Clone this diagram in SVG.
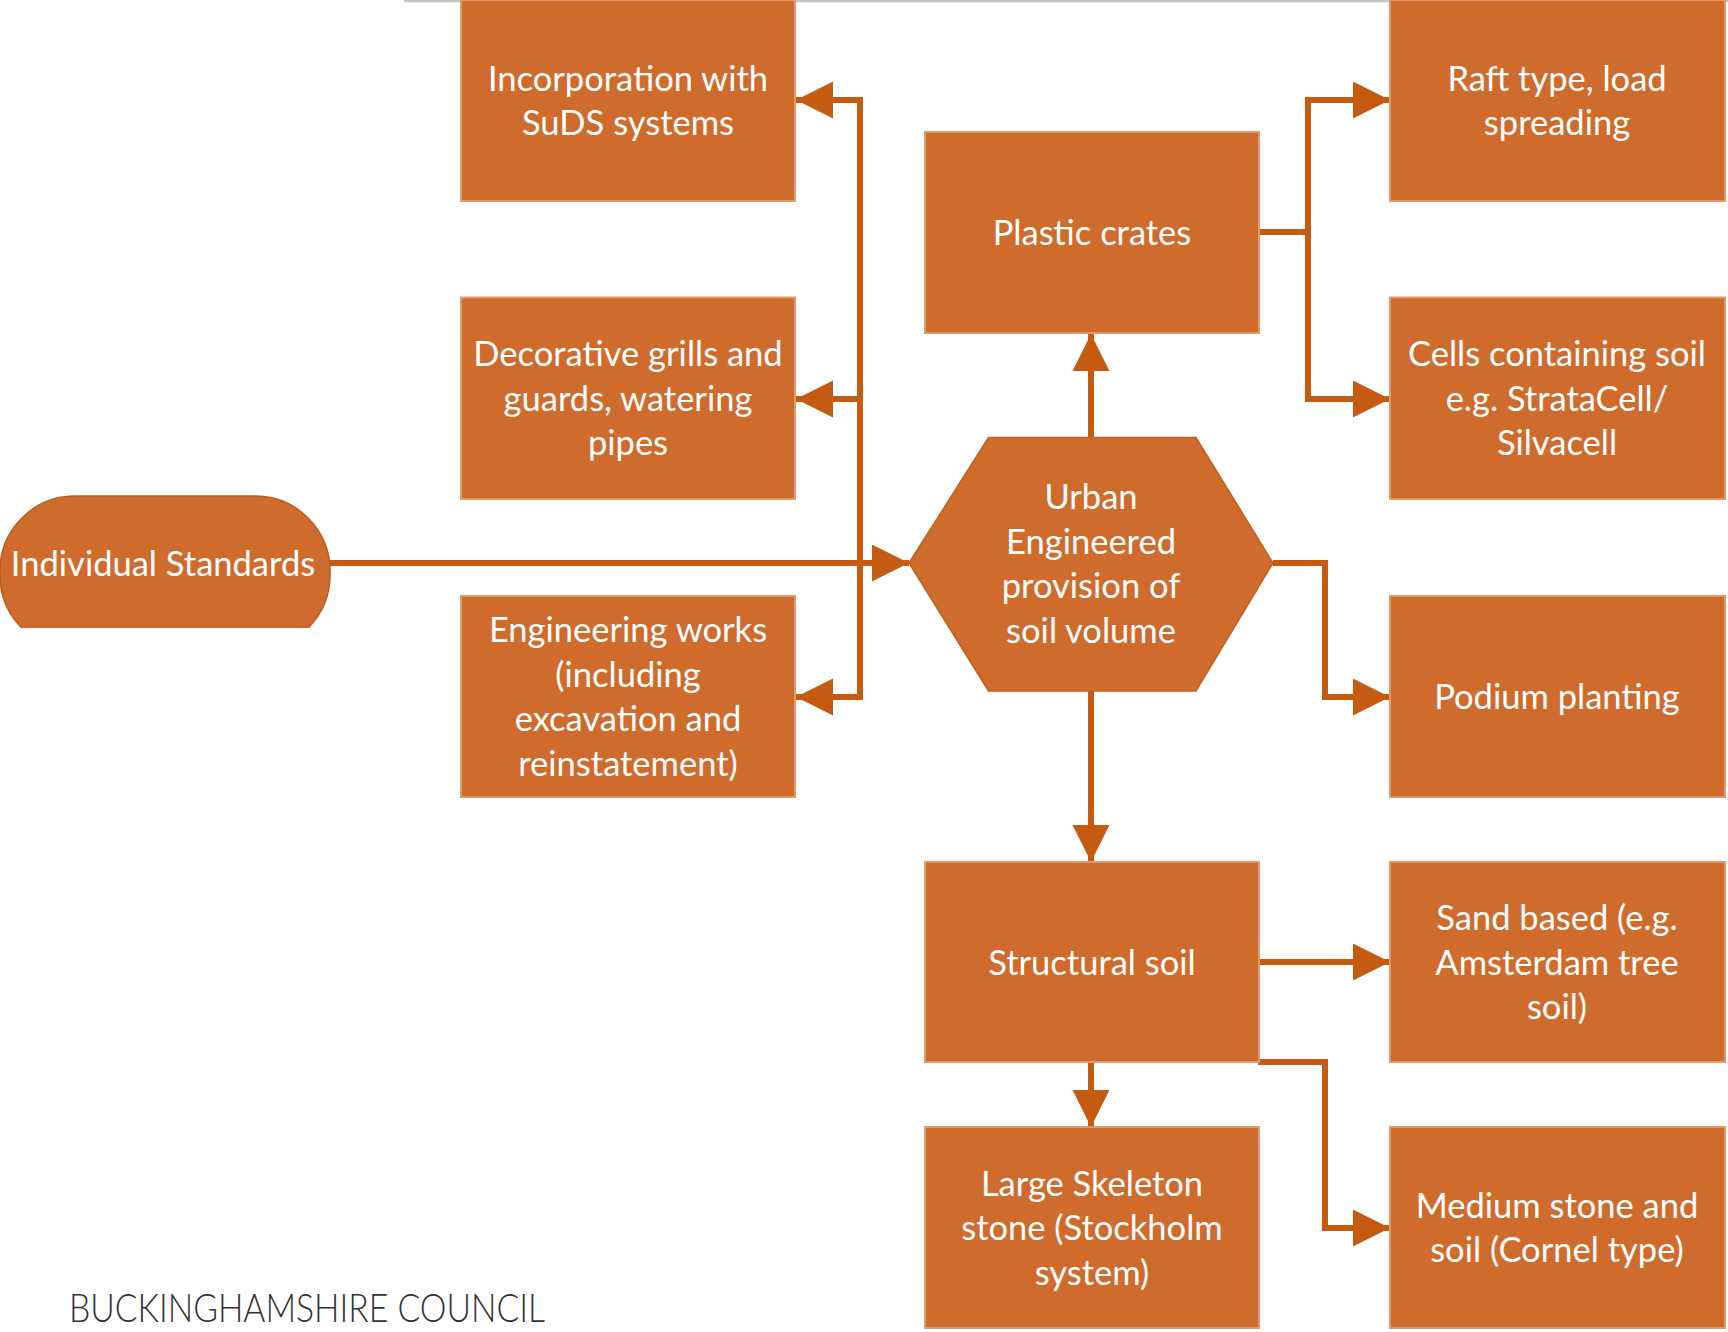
<svg xmlns="http://www.w3.org/2000/svg" width="1728" height="1332" viewBox="0 0 1728 1332">
  <style>
    .box { fill: #CF6C2D; stroke: #DE9A6C; stroke-width: 2; }
    .hex { fill: #CF6C2D; stroke: #C0601F; stroke-width: 1.5; }
    .term { fill: #CF6C2D; stroke: #B95D1E; stroke-width: 1.5; }
    .lbl { font-family: Lato, "Open Sans", "Liberation Sans", sans-serif; font-size: 34.5px; fill: #FFFFFF; text-anchor: middle; }
    .conn { fill: none; stroke: #C55A11; stroke-width: 6; stroke-linejoin: miter; marker-end: url(#arr); }
    .plain { fill: none; stroke: #C55A11; stroke-width: 6; stroke-linejoin: miter; }
    .foot { font-family: Lato, "Liberation Sans", sans-serif; font-weight: 300; font-size: 40px; fill: #333333; }
  </style>
  <defs>
    <marker id="arr" markerUnits="userSpaceOnUse" markerWidth="38" markerHeight="38" refX="37" refY="18.5" orient="auto">
      <path d="M0,0 L37,18.5 L0,37 Z" fill="#C55A11"/>
    </marker>
    <clipPath id="termClip">
      <rect x="-5" y="480" width="345" height="148"/>
    </clipPath>
  </defs>
  <rect width="1728" height="1332" fill="#FFFFFF"/>
  <line x1="404" y1="1" x2="1728" y2="1" stroke="#C4C4C4" stroke-width="2.5"/>

  <g id="connectors">
    <path class="conn" d="M330,563 H909"/>
    <path class="plain" d="M860,563 V97"/>
    <path class="conn" d="M860,100 H796"/>
    <path class="conn" d="M860,399 H796"/>
    <path class="conn" d="M860,563 V697 H796"/>
    <path class="conn" d="M1091,437 V334"/>
    <path class="conn" d="M1258,232 H1308 V100 H1390"/>
    <path class="conn" d="M1308,232 V399 H1390"/>
    <path class="conn" d="M1273,563 H1325 V697 H1390"/>
    <path class="conn" d="M1091,691 V862"/>
    <path class="conn" d="M1258,962 H1390"/>
    <path class="conn" d="M1091,1062 V1127"/>
    <path class="conn" d="M1258,1062 H1325 V1228 H1390"/>
  </g>

  <g id="individual-standards">
    <rect class="term" x="0" y="496" width="330" height="154" rx="75" ry="75" clip-path="url(#termClip)"/>
    <text class="lbl" x="163" y="575.5">Individual Standards</text>
  </g>

  <g id="suds">
    <rect class="box" x="461" y="0" width="334" height="201"/>
    <text class="lbl" x="628" y="90.8">Incorporation with</text>
    <text class="lbl" x="628" y="135.3">SuDS systems</text>
  </g>

  <g id="grills">
    <rect class="box" x="461" y="297.5" width="334" height="201.5"/>
    <text class="lbl" x="628" y="366.3">Decorative grills and</text>
    <text class="lbl" x="628" y="410.8">guards, watering</text>
    <text class="lbl" x="628" y="455.3">pipes</text>
  </g>

  <g id="engineering-works">
    <rect class="box" x="461" y="596" width="334" height="201"/>
    <text class="lbl" x="628" y="642.3">Engineering works</text>
    <text class="lbl" x="628" y="686.8">(including</text>
    <text class="lbl" x="628" y="731.3">excavation and</text>
    <text class="lbl" x="628" y="775.8">reinstatement)</text>
  </g>

  <g id="plastic-crates">
    <rect class="box" x="925" y="132" width="334" height="201"/>
    <text class="lbl" x="1092" y="245">Plastic crates</text>
  </g>

  <g id="urban-engineered">
    <polygon class="hex" points="909,563 988.5,437.5 1196,437.5 1273,563 1196,691 988.5,691"/>
    <text class="lbl" x="1091" y="509">Urban</text>
    <text class="lbl" x="1091" y="553.5">Engineered</text>
    <text class="lbl" x="1091" y="598">provision of</text>
    <text class="lbl" x="1091" y="642.5">soil volume</text>
  </g>

  <g id="structural-soil">
    <rect class="box" x="925" y="862" width="334" height="200"/>
    <text class="lbl" x="1092" y="974.5">Structural soil</text>
  </g>

  <g id="large-skeleton">
    <rect class="box" x="925" y="1127" width="334" height="201"/>
    <text class="lbl" x="1092" y="1195.5">Large Skeleton</text>
    <text class="lbl" x="1092" y="1240">stone (Stockholm</text>
    <text class="lbl" x="1092" y="1284.5">system)</text>
  </g>

  <g id="raft">
    <rect class="box" x="1390" y="0" width="335" height="201"/>
    <text class="lbl" x="1557" y="90.8">Raft type, load</text>
    <text class="lbl" x="1557" y="135.3">spreading</text>
  </g>

  <g id="cells">
    <rect class="box" x="1390" y="297.5" width="335" height="201.5"/>
    <text class="lbl" x="1557" y="366.3">Cells containing soil</text>
    <text class="lbl" x="1557" y="410.8">e.g. StrataCell/</text>
    <text class="lbl" x="1557" y="455.3">Silvacell</text>
  </g>

  <g id="podium">
    <rect class="box" x="1390" y="596" width="335" height="201"/>
    <text class="lbl" x="1557" y="709">Podium planting</text>
  </g>

  <g id="sand-based">
    <rect class="box" x="1390" y="862" width="335" height="200"/>
    <text class="lbl" x="1557" y="930">Sand based (e.g.</text>
    <text class="lbl" x="1557" y="974.5">Amsterdam tree</text>
    <text class="lbl" x="1557" y="1019">soil)</text>
  </g>

  <g id="medium-stone">
    <rect class="box" x="1390" y="1127" width="335" height="201"/>
    <text class="lbl" x="1557" y="1217.8">Medium stone and</text>
    <text class="lbl" x="1557" y="1262.3">soil (Cornel type)</text>
  </g>

  <text class="foot" x="69" y="1321.5" textLength="476" lengthAdjust="spacingAndGlyphs">BUCKINGHAMSHIRE COUNCIL</text>
</svg>
